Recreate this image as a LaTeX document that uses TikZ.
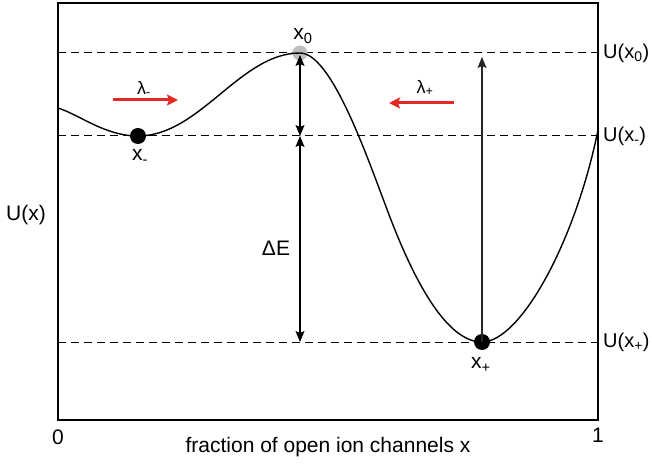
\documentclass[tikz,border=0pt]{standalone}
\usepackage{fontspec}
\setmainfont{Liberation Sans}
\usetikzlibrary{arrows.meta}
\definecolor{ratered}{RGB}{228,40,36}

\begin{document}
\begin{tikzpicture}[
    x=1pt, y=1pt,
    >={Stealth[length=11pt,width=9pt,inset=2pt]},
    level/.style={dash pattern=on 8pt off 5pt, line width=1pt},
    gap/.style={<->, line width=1.2pt},
    rate/.style={-{Stealth[length=11pt,width=11pt,inset=2pt]}, line width=3pt, ratered},
    lbl/.style={font=\fontsize{21}{25}\selectfont, inner sep=0pt},
    side/.style={font=\fontsize{20}{24}\selectfont, inner sep=0pt, anchor=west},
    small/.style={font=\fontsize{18}{21}\selectfont, inner sep=0pt}
]

\useasboundingbox (0,0) rectangle (652,463);

% Marc
\coordinate (bl) at (58,43);
\coordinate (tr) at (598,460);
\draw[line width=2pt] (bl) rectangle (tr);

% Extrems
\coordinate (xm) at (138,327);
\coordinate (x0) at (300,410);
\coordinate (xp) at (482,121);

% Nivells
\draw[level] (bl |- x0) -- (tr |- x0);
\draw[level] (bl |- xm) -- (tr |- xm);
\draw[level] (bl |- xp) -- (tr |- xp);

% Punt de sella
\fill[gray!50] (x0) circle (7.5pt);

% Potencial
\draw[line width=1.4pt]
    (58,355)
    .. controls (80,348) and (105,327) .. (xm)
    .. controls (200,327) and (240,410) .. (x0)
    .. controls (335,410) and (375,282) .. (395,233)
    .. controls (420,171) and (450,121) .. (xp)
    .. controls (520,121) and (575,220) .. (598,333);

% Minims
\fill (xm) circle (8pt);
\fill (xp) circle (8pt);

% Barreres
\draw[gap, shorten <=2pt] (x0) -- (x0 |- xm);
\draw[gap] (x0 |- xm) -- (x0 |- xp);
\draw[->, line width=1.3pt, black!85, shorten >=4pt] (xp) -- (xp |- x0);

% Taxes
\coordinate (rm1) at (113,363);
\coordinate (rm2) at (178,363);
\coordinate (rp1) at (454,360);
\coordinate (rp2) at (389,360);
\draw[rate] (rm1) -- (rm2);
\draw[rate] (rp1) -- (rp2);

% Etiquetes
\node[small] (lm) at (144,374) {λ\textsubscript{-}};
\node[small] (lp) at (425,375) {λ\textsubscript{+}};
\node[lbl] (lx0) at (303,427) {x\textsubscript{0}};
\node[lbl] (lxm) at (140,306) {x\textsubscript{-}};
\node[lbl] (lxp) at (481,98) {x\textsubscript{+}};
\node[lbl] (dE) at (276,215) {ΔE};
\node[lbl] (ux) at (26,248) {U(x)};
\node[side] (ux0) at ([xshift=5pt]tr |- x0) {U(x\textsubscript{0})};
\node[side] (uxm) at ([xshift=5pt]tr |- xm) {U(x\textsubscript{-})};
\node[side] (uxp) at ([xshift=5pt]tr |- xp) {U(x\textsubscript{+})};
\node[lbl] (zero) at (58,26) {0};
\node[lbl] (one) at (598,28) {1};
\node[lbl] (axis) at (328,16) {fraction of open ion channels x};

\end{tikzpicture}
\end{document}
